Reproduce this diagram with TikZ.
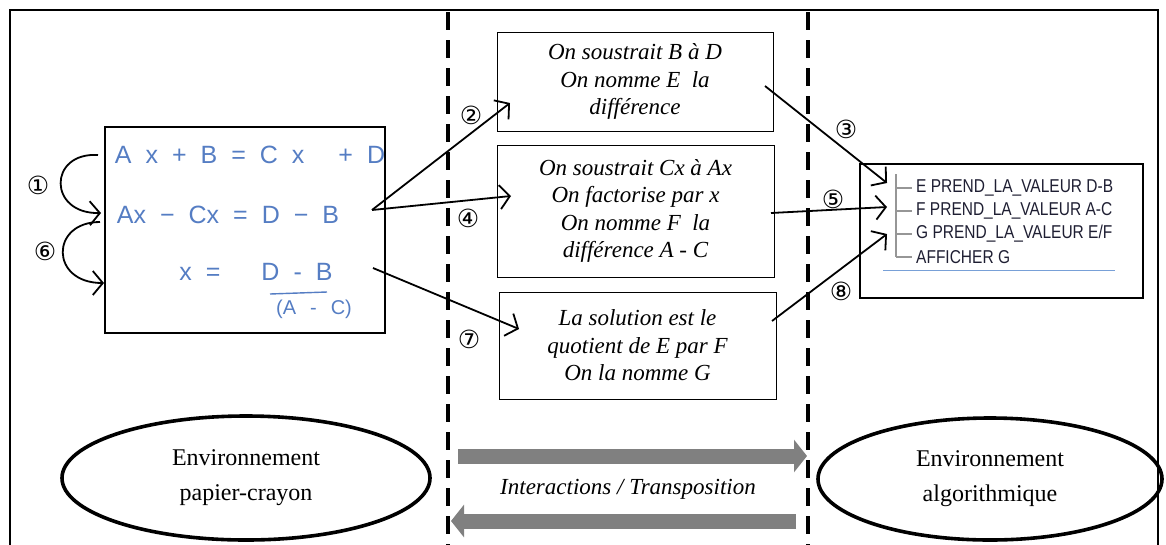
\documentclass[tikz,border=0pt]{standalone}
\usepackage{fontspec}
\setmainfont{Liberation Serif}
\newfontfamily\symf{DejaVu Sans}
\newfontfamily\algf{Liberation Sans}
\newfontfamily\handf{Liberation Sans}
\newcommand\handsp{\spaceskip=14pt\relax}
\usetikzlibrary{arrows.meta,shapes.geometric}
\definecolor{handblue}{RGB}{85,125,195}
\definecolor{garrow}{RGB}{128,128,128}
\definecolor{treegray}{RGB}{150,150,150}
\definecolor{algtext}{RGB}{30,30,50}
\definecolor{lineblue}{RGB}{120,160,215}
\begin{document}
\begin{tikzpicture}[x=1pt,y=-1pt,
  frame/.style={line width=1.6pt},
  sepline/.style={line width=3.2pt, dash pattern=on 18pt off 10pt},
  stepbox/.style={draw, line width=1pt, align=center, inner sep=0pt,
    font=\itshape\fontsize{23}{27.5}\selectfont},
  conn/.style={line width=1.8pt, -{Straight Barb[length=10pt,width=24pt,line width=1.8pt]}},
  num/.style={font=\symf\fontsize{25}{25}\selectfont, inner sep=0pt},
  envell/.style={draw, ellipse, line width=3.6pt, align=center, inner sep=0pt,
    font=\fontsize{24}{35}\selectfont},
  hand/.style={text=handblue, inner sep=0pt,
    font=\handf\fontsize{25}{25}\selectfont\handsp},
  algline/.style={anchor=west, inner sep=0pt, text=algtext,
    font=\algf\fontsize{15.5}{15.5}\selectfont},
  bigarrow/.style={garrow, line width=15pt, -{Triangle[length=13pt,width=32pt]}}
]
\useasboundingbox (0,0) rectangle (1166,544);

% outer frame
\draw[frame] (10,548) -- (10,10) -- (1158,10) -- (1158,548);
% dashed separators
\draw[sepline] (448,12) -- (448,548);
\draw[sepline] (808,12) -- (808,548);

% left box with handwritten equations
\node[draw, line width=1.3pt, minimum width=280pt, minimum height=206pt, inner sep=0pt] (pbox) at (245,230) {};
\node[hand] (eq1) at (250,155) {A x + B = C x \hspace{6pt} + D};
\node[hand] (eq2) at (228,215) {Ax − Cx = D − B};
\node[hand] (eq3a) at (200,274) {x = };
\node[hand] (eq3b) at (297,272) {D - B};
\node[hand, font=\handf\fontsize{20}{20}\selectfont\handsp] (eq3c) at (314,309) {(A - C)};
\draw[handblue, line width=1.4pt] (270,294) -- (327,292);

% left curved arrows
\coordinate (c1s) at (98,155);
\coordinate (c1e) at (101,213);
\coordinate (c6s) at (100,222);
\coordinate (c6e) at (104,283);
\draw[conn] (c1s) .. controls (48,152) and (48,214) .. (c1e);
\draw[conn] (c6s) .. controls (50,222) and (50,283) .. (c6e);
\node[num] (n1) at (38,185) {①};
\node[num] (n6) at (45,251) {⑥};

% middle boxes
\node[stepbox, minimum width=276pt, minimum height=99pt] (b2) at (635,81.5)
  {On soustrait B à D\\On nomme E\ \ la\\différence};
\node[stepbox, minimum width=277pt, minimum height=132pt] (b4) at (635.5,211)
  {On soustrait Cx à Ax\\On factorise par x\\On nomme F\ \ la\\différence A - C};
\node[stepbox, minimum width=277pt, minimum height=107pt] (b7) at (637.5,345.5)
  {La solution est le\\quotient de E par F\\On la nomme G};

% algorithm box
\node[draw, line width=1.1pt, minimum width=283pt, minimum height=134pt, inner sep=0pt] (abox) at (1001.5,231) {};
\draw[treegray, line width=2pt] (896,174) -- (896,257);
\foreach \yy in {188,211,234,257} \draw[treegray, line width=2pt] (896,\yy) -- (912,\yy);
\node[algline] (a1) at (916,188) {\scalebox{1}[1.2]{E PREND\_LA\_VALEUR D-B}};
\node[algline] (a2) at (916,211) {\scalebox{1}[1.2]{F PREND\_LA\_VALEUR A-C}};
\node[algline] (a3) at (916,234) {\scalebox{1}[1.2]{G PREND\_LA\_VALEUR E/F}};
\node[algline] (a4) at (916,257) {\scalebox{1}[1.2]{AFFICHER G}};
\draw[lineblue, line width=1pt] (883,270) -- (1115,270);

% connectors
\coordinate (s2) at (372,210);
\coordinate (s7) at (373,268);
\coordinate (t2) at (510,103);
\coordinate (t4) at (511,196);
\coordinate (t7) at (519,329);
\coordinate (r3) at (765,86);
\coordinate (r5) at (771,213);
\coordinate (r8) at (772,321);
\coordinate (e3) at (887,183);
\coordinate (e5) at (887,207);
\coordinate (e8) at (887,234);
\draw[conn] (s2) -- (t2);
\draw[conn] (s2) -- (t4);
\draw[conn] (s7) -- (t7);
\draw[conn] (r3) -- (e3);
\draw[conn] (r5) -- (e5);
\draw[conn] (r8) -- (e8);
\node[num] (n2) at (471,115) {②};
\node[num] (n4) at (468,218) {④};
\node[num] (n7) at (469,339) {⑦};
\node[num] (n3) at (846,129) {③};
\node[num] (n5) at (833,199) {⑤};
\node[num] (n8) at (841,291) {⑧};

% environments
\node[envell, minimum width=368pt, minimum height=124pt] (envL) at (246,478)
  {Environnement\\papier-crayon};
\node[envell, minimum width=344pt, minimum height=122pt] (envR) at (990,479)
  {Environnement\\algorithmique};

% interaction arrows
\coordinate (ga1) at (458,456);
\coordinate (gb1) at (807,456);
\coordinate (ga2) at (796,521);
\coordinate (gb2) at (451,521);
\draw[bigarrow] (ga1) -- (gb1);
\draw[bigarrow] (ga2) -- (gb2);
\node[font=\itshape\fontsize{23}{23}\selectfont, inner sep=0pt] (inter) at (628,489) {Interactions / Transposition};
\end{tikzpicture}
\end{document}
